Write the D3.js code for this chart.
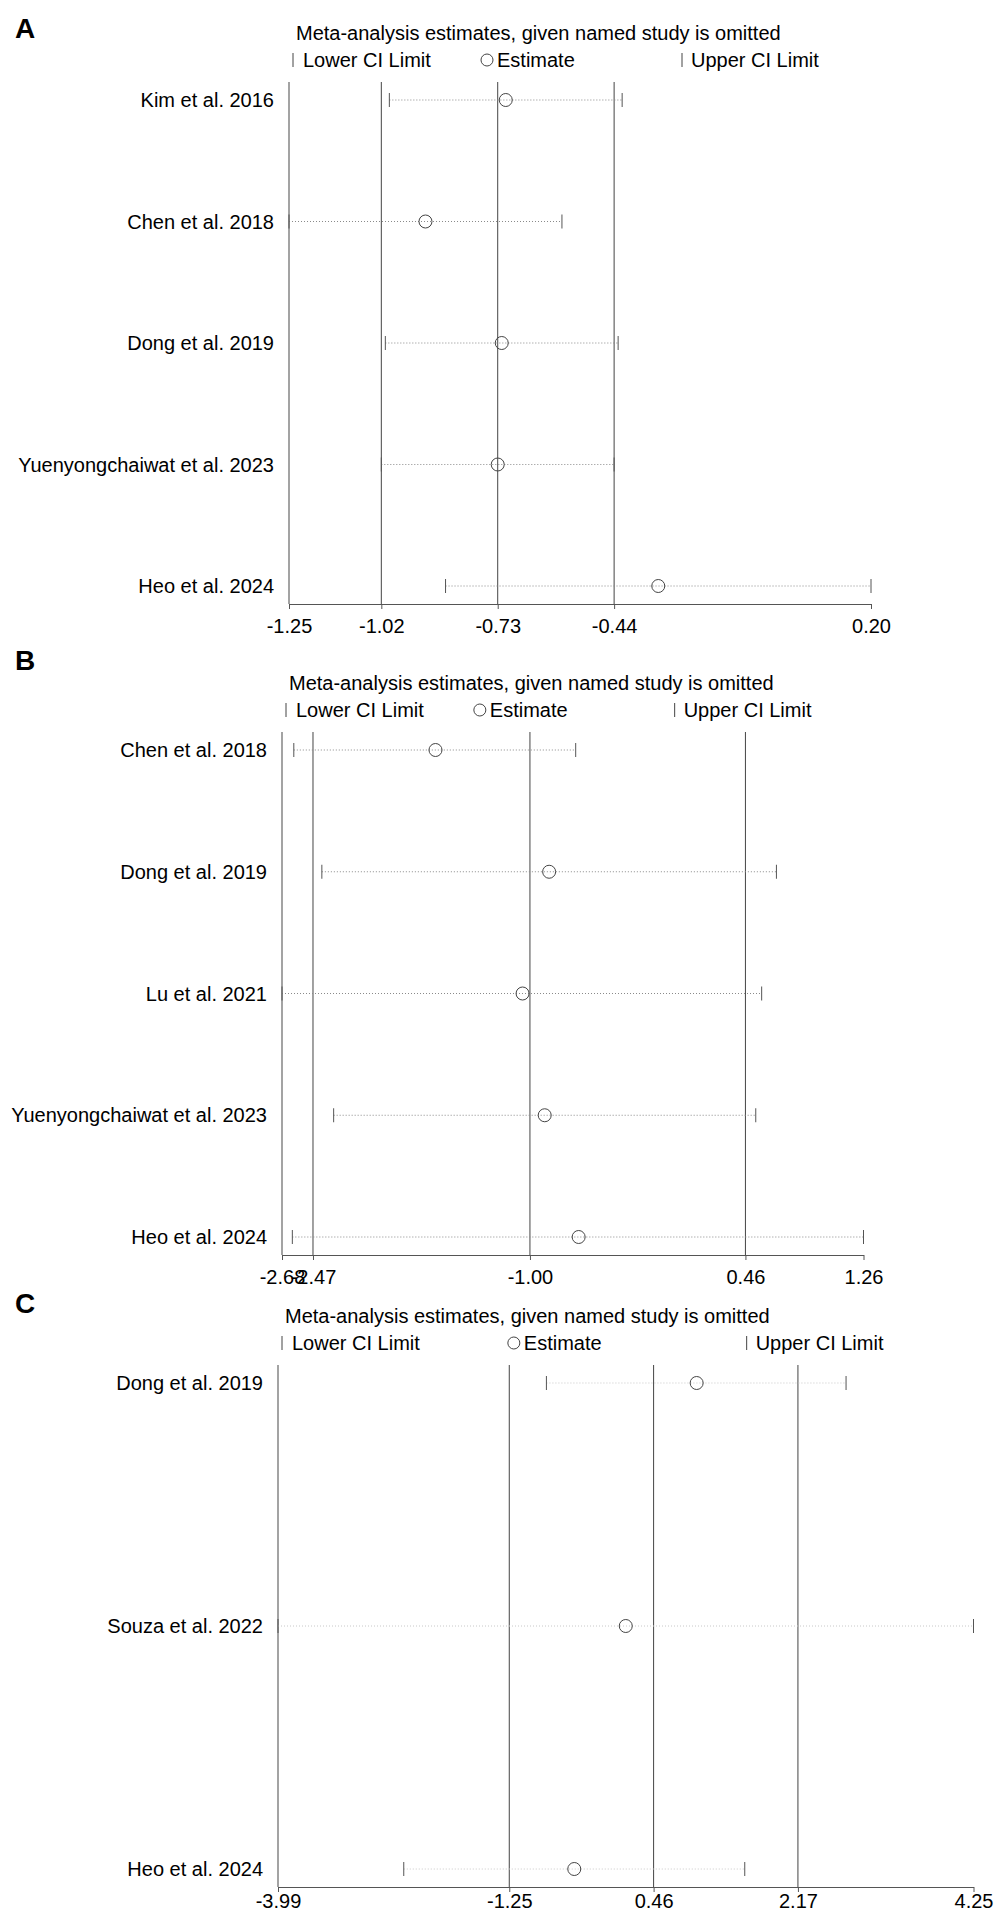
<!DOCTYPE html>
<html>
<head>
<meta charset="utf-8">
<script src="https://cdn.jsdelivr.net/npm/d3@7"></script>
<style>
  body { margin: 0; background: #fff; }
  svg { display: block; }
  text { font-family: "Liberation Sans", Arial, sans-serif; fill: #000; }
</style>
</head>
<body>
<svg id="chart" width="1004" height="1921"></svg>
<script>
// ---------- DATA ----------
const titleText = "Meta-analysis estimates, given named study is omitted";
const legendLabels = ["Lower CI Limit", "Estimate", "Upper CI Limit"];

// Panel A
const studiesA = ["Kim et al. 2016", "Chen et al. 2018", "Dong et al. 2019", "Yuenyongchaiwat et al. 2023", "Heo et al. 2024"];
const lowerA = [-1.00, -1.25, -1.01, -1.02, -0.86];
const estA   = [-0.71, -0.91, -0.72, -0.73, -0.33];
const upperA = [-0.42, -0.57, -0.43, -0.44, 0.20];
const refA   = [-1.02, -0.73, -0.44];
const ticksA = [-1.25, -1.02, -0.73, -0.44, 0.20];

// Panel B
const studiesB = ["Chen et al. 2018", "Dong et al. 2019", "Lu et al. 2021", "Yuenyongchaiwat et al. 2023", "Heo et al. 2024"];
const lowerB = [-2.60, -2.41, -2.68, -2.33, -2.61];
const estB   = [-1.64, -0.87, -1.05, -0.90, -0.67];
const upperB = [-0.69, 0.67, 0.57, 0.53, 1.26];
const refB   = [-2.47, -1.00, 0.46];
const ticksB = [-2.68, -2.47, -1.00, 0.46, 1.26];

// Panel C
const studiesC = ["Dong et al. 2019", "Souza et al. 2022", "Heo et al. 2024"];
const lowerC = [-0.81, -3.99, -2.50];
const estC   = [0.97, 0.13, -0.48];
const upperC = [2.74, 4.25, 1.54];
const refC   = [-1.25, 0.46, 2.17];
const ticksC = [-3.99, -1.25, 0.46, 2.17, 4.25];

// ---------- LAYOUT ----------
const panels = [
  { letter: "A", letterY: 38, studies: studiesA, lower: lowerA, est: estA, upper: upperA, ref: refA, ticks: ticksA,
    left: 289, right: 871, top: 82, bottom: 604, tickPad: 10, dotColor: "#8a8a8a" },
  { letter: "B", letterY: 670, studies: studiesB, lower: lowerB, est: estB, upper: upperB, ref: refB, ticks: ticksB,
    left: 282, right: 863.5, top: 732, bottom: 1255, tickPad: 10, dotColor: "#8a8a8a" },
  { letter: "C", letterY: 1313, studies: studiesC, lower: lowerC, est: estC, upper: upperC, ref: refC, ticks: ticksC,
    left: 278, right: 973.5, top: 1365, bottom: 1887, tickPad: 2, dotColor: "#c8c8c8" }
];

const svg = d3.select("#chart");
svg.append("rect").attr("width", 1004).attr("height", 1921).attr("fill", "#fff");

panels.forEach(p => {
  const g = svg.append("g");
  const x = d3.scaleLinear()
    .domain([d3.min(p.ticks), d3.max(p.ticks)])
    .range([p.left, p.right]);
  const y = d3.scalePoint()
    .domain(p.studies)
    .range([p.top + 18, p.bottom - 18]);
  const w = p.right - p.left;

  // panel letter
  g.append("text").attr("x", 15).attr("y", p.letterY)
    .attr("font-size", 28).attr("font-weight", "bold").text(p.letter);

  // title
  g.append("text").attr("x", p.left + 7).attr("y", p.top - 42)
    .attr("font-size", 20).text(titleText);

  // legend
  const ly = p.top - 15;
  const lc = ly - 7;
  const lx = [0, 1, 2].map(i => p.left + w * i / 3);
  g.append("line").attr("x1", lx[0] + 4).attr("x2", lx[0] + 4)
    .attr("y1", lc - 7).attr("y2", lc + 7).attr("stroke", "#444").attr("stroke-width", 1);
  g.append("circle").attr("cx", lx[1] + 4).attr("cy", lc).attr("r", 6)
    .attr("fill", "none").attr("stroke", "#444").attr("stroke-width", 1);
  g.append("line").attr("x1", lx[2] + 5).attr("x2", lx[2] + 5)
    .attr("y1", lc - 7).attr("y2", lc + 7).attr("stroke", "#444").attr("stroke-width", 1);
  legendLabels.forEach((t, i) => {
    g.append("text").attr("x", lx[i] + 14).attr("y", ly).attr("font-size", 20).text(t);
  });

  // left axis line
  g.append("line").attr("x1", p.left).attr("x2", p.left)
    .attr("y1", p.top).attr("y2", p.bottom).attr("stroke", "#666").attr("stroke-width", 1.2);

  // reference lines (overall estimate & CI)
  g.selectAll(".ref").data(p.ref).enter().append("line")
    .attr("x1", d => x(d)).attr("x2", d => x(d))
    .attr("y1", p.top).attr("y2", p.bottom)
    .attr("stroke", "#444").attr("stroke-width", 1);

  // bottom axis
  const axis = d3.axisBottom(x)
    .tickValues(p.ticks)
    .tickFormat(d => d.toFixed(2))
    .tickSizeInner(5).tickSizeOuter(0).tickPadding(p.tickPad);
  const ag = g.append("g").attr("transform", `translate(0,${p.bottom})`).call(axis);
  ag.select(".domain").attr("stroke", "#555");
  ag.selectAll(".tick line").attr("stroke", "#555");
  ag.selectAll(".tick text").attr("font-size", 20).attr("font-family", '"Liberation Sans", Arial, sans-serif').attr("fill", "#000");

  // rows
  p.studies.forEach((s, i) => {
    const yy = y(s);
    g.append("text").attr("x", p.left - 15).attr("y", yy + 7)
      .attr("text-anchor", "end").attr("font-size", 20).text(s);
    g.append("line")
      .attr("x1", x(p.lower[i])).attr("x2", x(p.upper[i]))
      .attr("y1", yy).attr("y2", yy)
      .attr("stroke", p.dotColor).attr("stroke-width", 1)
      .attr("stroke-dasharray", "1,2");
    [p.lower[i], p.upper[i]].forEach(v => {
      g.append("line").attr("x1", x(v)).attr("x2", x(v))
        .attr("y1", yy - 7).attr("y2", yy + 7)
        .attr("stroke", "#555").attr("stroke-width", 1);
    });
    g.append("circle").attr("cx", x(p.est[i])).attr("cy", yy).attr("r", 6.5)
      .attr("fill", "none").attr("stroke", "#444").attr("stroke-width", 1);
  });
});
</script>
</body>
</html>
